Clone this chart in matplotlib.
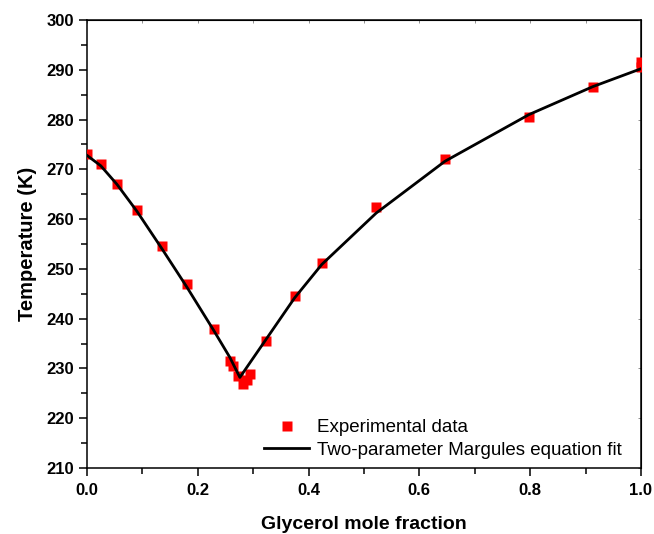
import numpy as np
from matplotlib import pyplot as plt
from matplotlib.ticker import MultipleLocator

plt.rcParams['font.family'] = ['Liberation Sans', 'DejaVu Sans']

# experimental points (glycerol mole fraction, K)
x_exp = [0.0, 0.025, 0.054, 0.090, 0.135, 0.180, 0.229, 0.258, 0.264,
         0.273, 0.281, 0.289, 0.294, 0.323, 0.375, 0.424, 0.522, 0.646,
         0.798, 0.913, 1.0, 1.0]
t_exp = [273.0, 271.1, 267.1, 261.9, 254.5, 247.0, 238.0, 231.4, 230.4,
         228.4, 226.8, 227.7, 228.9, 235.6, 244.5, 251.1, 262.5, 272.1,
         280.6, 286.5, 291.6, 290.6]

# Margules fit curve
x_fit = [0.0, 0.025, 0.054, 0.090, 0.135, 0.180, 0.229, 0.258, 0.276,
         0.323, 0.375, 0.424, 0.522, 0.646, 0.798, 0.913, 1.0]
t_fit = [272.8, 270.7, 267.0, 261.6, 254.1, 246.4, 237.6, 232.2, 228.2,
         235.8, 244.2, 250.9, 261.2, 271.6, 281.0, 286.6, 290.2]

fig = plt.figure(figsize=(6.54, 5.34), dpi=100)
ax = fig.add_axes([0.133, 0.1236, 0.847, 0.839])

ax.plot(x_exp, t_exp, 's', color='red', ms=7.5, mec='none',
        label='Experimental data', zorder=3)
ax.plot(x_fit, t_fit, '-', color='black', lw=2.0,
        label='Two-parameter Margules equation fit', zorder=4)

ax.set_xlim(0, 1.0)
ax.set_ylim(210, 300)
ax.xaxis.set_major_locator(MultipleLocator(0.2))
ax.xaxis.set_minor_locator(MultipleLocator(0.1))
ax.yaxis.set_major_locator(MultipleLocator(10))
ax.yaxis.set_minor_locator(MultipleLocator(5))
ax.xaxis.set_major_formatter(plt.FormatStrFormatter('%.1f'))

for s in ax.spines.values():
    s.set_linewidth(1.1)
ax.tick_params(which='major', direction='out', length=6, width=1.1,
               labelsize=12, pad=3)
ax.tick_params(axis='x', which='major', pad=5)
ax.tick_params(which='minor', direction='out', length=4, width=1.1)
for lab in ax.get_xticklabels() + ax.get_yticklabels():
    lab.set_fontweight('bold')

# small inward ticks on top and right
ax_top = ax.secondary_xaxis('top')
ax_top.xaxis.set_major_locator(MultipleLocator(0.1))
ax_top.tick_params(direction='in', length=2, width=0.6, labeltop=False,
                   color='gray')
ax_right = ax.secondary_yaxis('right')
ax_right.yaxis.set_major_locator(MultipleLocator(10))
ax_right.tick_params(direction='in', length=2, width=0.6, labelright=False,
                     color='gray')

ax.set_xlabel('Glycerol mole fraction', fontsize=14, fontweight='bold',
              labelpad=13)
ax.set_ylabel('Temperature (K)', fontsize=14.5, fontweight='bold', labelpad=7)

ax.legend(loc='lower left', bbox_to_anchor=(0.3, -0.005), frameon=False,
          fontsize=13.5, handlelength=2.4, handletextpad=0.4,
          labelspacing=0.3, borderaxespad=0.2)

plt.savefig('out.png', dpi=100)
